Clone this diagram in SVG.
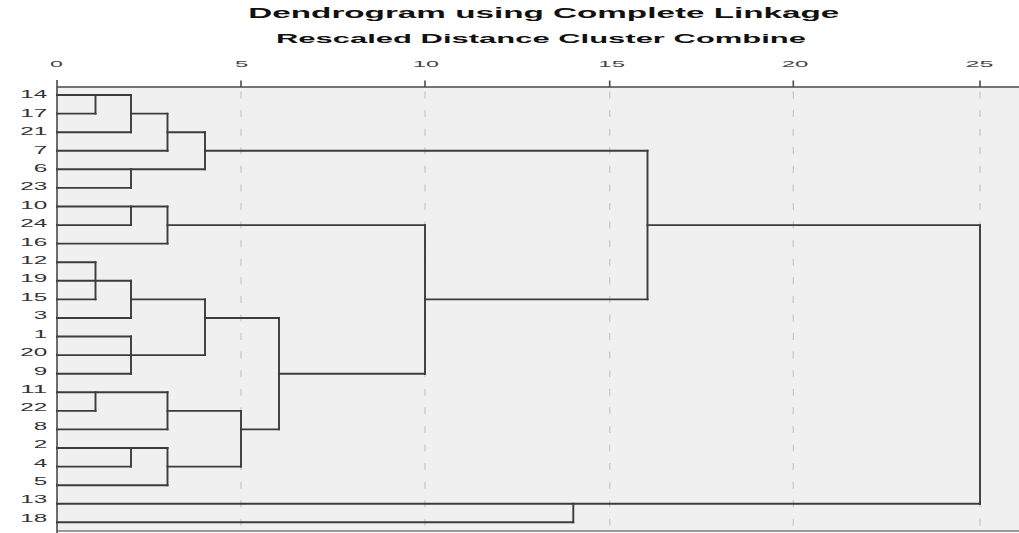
<svg xmlns="http://www.w3.org/2000/svg" width="1019" height="533" viewBox="0 0 1019 533">
  <style>
    .title { font-family: "Liberation Sans", Arial, sans-serif; font-weight: bold; fill: #111; }
    .tick { font-family: "Liberation Sans", Arial, sans-serif; font-size: 9.5px; fill: #444; }
    .leaf { font-family: "Liberation Sans", Arial, sans-serif; font-size: 10px; fill: #333; }
    .grid { stroke: #c9c9c9; stroke-width: 1.3; stroke-dasharray: 7 11.58; fill: none; }
    .axis { stroke: #4a4a4a; stroke-width: 1.6; fill: none; }
    .link { stroke: #3c3c3c; stroke-width: 1.9; fill: none; stroke-linecap: square; }
  </style>

  <rect width="1019" height="533" fill="#ffffff"/>

  <!-- headings -->
  <g id="headings">
    <text class="title" x="248.3" y="17.5" font-size="14" textLength="591" lengthAdjust="spacingAndGlyphs">Dendrogram using Complete Linkage</text>
    <text class="title" x="276" y="42.7" font-size="12.5" textLength="530" lengthAdjust="spacingAndGlyphs">Rescaled Distance Cluster Combine</text>
  </g>

  <!-- plot area -->
  <g id="plot-area">
    <rect x="57" y="87" width="962" height="444" fill="#f0f0f0"/>
    <line x1="57" y1="531" x2="1019" y2="531" stroke="#7a7a7a" stroke-width="1.3"/>
  </g>

  <!-- dashed reference lines at 5, 10, 15, 20, 25 -->
  <g id="gridlines">
    <line class="grid" x1="241" y1="91.5" x2="241" y2="531"/>
    <line class="grid" x1="425" y1="91.5" x2="425" y2="531"/>
    <line class="grid" x1="609.7" y1="91.5" x2="609.7" y2="531"/>
    <line class="grid" x1="793.3" y1="91.5" x2="793.3" y2="531"/>
    <line class="grid" x1="980" y1="91.5" x2="980" y2="531"/>
  </g>

  <!-- distance scale -->
  <g id="axis">
    <line class="axis" x1="57" y1="87" x2="1019" y2="87"/>
    <line class="axis" x1="57" y1="80" x2="57" y2="533"/>
    <path class="axis" stroke-width="2" d="M241 80.5V87 M425 80.5V87 M609.7 80.5V87 M793.3 80.5V87 M980 80.5V87"/>
    <text class="tick" x="50" y="67.3" textLength="13" lengthAdjust="spacingAndGlyphs">0</text>
    <text class="tick" x="235" y="67.3" textLength="13.3" lengthAdjust="spacingAndGlyphs">5</text>
    <text class="tick" x="413" y="67.3" textLength="26" lengthAdjust="spacingAndGlyphs">10</text>
    <text class="tick" x="598.3" y="67.3" textLength="26.7" lengthAdjust="spacingAndGlyphs">15</text>
    <text class="tick" x="781.7" y="67.3" textLength="26.7" lengthAdjust="spacingAndGlyphs">20</text>
    <text class="tick" x="965.5" y="67.3" textLength="28" lengthAdjust="spacingAndGlyphs">25</text>
  </g>

  <!-- case labels -->
  <g id="leaf-14"><text class="leaf" x="20.3" y="98.2" textLength="27" lengthAdjust="spacingAndGlyphs">14</text></g>
  <g id="leaf-17"><text class="leaf" x="20.3" y="116.6" textLength="27" lengthAdjust="spacingAndGlyphs">17</text></g>
  <g id="leaf-21"><text class="leaf" x="20.3" y="135.0" textLength="27" lengthAdjust="spacingAndGlyphs">21</text></g>
  <g id="leaf-7"><text class="leaf" x="33.8" y="153.5" textLength="13.5" lengthAdjust="spacingAndGlyphs">7</text></g>
  <g id="leaf-6"><text class="leaf" x="33.8" y="171.9" textLength="13.5" lengthAdjust="spacingAndGlyphs">6</text></g>
  <g id="leaf-23"><text class="leaf" x="20.3" y="190.3" textLength="27" lengthAdjust="spacingAndGlyphs">23</text></g>
  <g id="leaf-10"><text class="leaf" x="20.3" y="208.7" textLength="27" lengthAdjust="spacingAndGlyphs">10</text></g>
  <g id="leaf-24"><text class="leaf" x="20.3" y="227.1" textLength="27" lengthAdjust="spacingAndGlyphs">24</text></g>
  <g id="leaf-16"><text class="leaf" x="20.3" y="245.6" textLength="27" lengthAdjust="spacingAndGlyphs">16</text></g>
  <g id="leaf-12"><text class="leaf" x="20.3" y="264.0" textLength="27" lengthAdjust="spacingAndGlyphs">12</text></g>
  <g id="leaf-19"><text class="leaf" x="20.3" y="282.4" textLength="27" lengthAdjust="spacingAndGlyphs">19</text></g>
  <g id="leaf-15"><text class="leaf" x="20.3" y="300.8" textLength="27" lengthAdjust="spacingAndGlyphs">15</text></g>
  <g id="leaf-3"><text class="leaf" x="33.8" y="319.2" textLength="13.5" lengthAdjust="spacingAndGlyphs">3</text></g>
  <g id="leaf-1"><text class="leaf" x="33.8" y="337.7" textLength="13.5" lengthAdjust="spacingAndGlyphs">1</text></g>
  <g id="leaf-20"><text class="leaf" x="20.3" y="356.1" textLength="27" lengthAdjust="spacingAndGlyphs">20</text></g>
  <g id="leaf-9"><text class="leaf" x="33.8" y="374.5" textLength="13.5" lengthAdjust="spacingAndGlyphs">9</text></g>
  <g id="leaf-11"><text class="leaf" x="20.3" y="392.9" textLength="27" lengthAdjust="spacingAndGlyphs">11</text></g>
  <g id="leaf-22"><text class="leaf" x="20.3" y="411.3" textLength="27" lengthAdjust="spacingAndGlyphs">22</text></g>
  <g id="leaf-8"><text class="leaf" x="33.8" y="429.8" textLength="13.5" lengthAdjust="spacingAndGlyphs">8</text></g>
  <g id="leaf-2"><text class="leaf" x="33.8" y="448.2" textLength="13.5" lengthAdjust="spacingAndGlyphs">2</text></g>
  <g id="leaf-4"><text class="leaf" x="33.8" y="466.6" textLength="13.5" lengthAdjust="spacingAndGlyphs">4</text></g>
  <g id="leaf-5"><text class="leaf" x="33.8" y="485.0" textLength="13.5" lengthAdjust="spacingAndGlyphs">5</text></g>
  <g id="leaf-13"><text class="leaf" x="20.3" y="503.4" textLength="27" lengthAdjust="spacingAndGlyphs">13</text></g>
  <g id="leaf-18"><text class="leaf" x="20.3" y="521.9" textLength="27" lengthAdjust="spacingAndGlyphs">18</text></g>

  <!-- tree links: horizontal runs per row, then the joining verticals -->
  <g id="connectors" class="link">
    <path d="M57 95H131
             M57 113.6H95.5 M131 113.6H167.5
             M57 132.2H131 M167.5 132.2H205
             M57 150.7H167.5 M205 150.7H647.5
             M57 169.3H205
             M57 187.9H131
             M57 206.5H167.5
             M57 225.1H131 M167.5 225.1H425 M647.5 225.1H980
             M57 243.6H167.5
             M57 262.2H95.5
             M57 280.8H131
             M57 299.4H95.5 M131 299.4H205 M425 299.4H647.5
             M57 318H131 M205 318H279
             M57 336.5H131
             M57 355.1H205
             M57 373.7H131 M279 373.7H425
             M57 392.3H167.5
             M57 410.9H95.5 M167.5 410.9H241
             M57 429.4H167.5 M241 429.4H279
             M57 448H167.5
             M57 466.6H131 M167.5 466.6H241
             M57 485.2H167.5
             M57 503.8H980
             M57 522.3H573.3"/>
    <path d="M95.5 95V113.6
             M131 95V132.2
             M167.5 113.6V150.7
             M131 169.3V187.9
             M205 132.2V169.3
             M131 206.5V225.1
             M167.5 206.5V243.6
             M95.5 262.2V299.4
             M131 280.8V318
             M131 336.5V373.7
             M205 299.4V355.1
             M95.5 392.3V410.9
             M167.5 392.3V429.4
             M131 448V466.6
             M167.5 448V485.2
             M241 410.9V466.6
             M279 318V429.4
             M425 225.1V373.7
             M647.5 150.7V299.4
             M573.3 503.8V522.3
             M980 225.1V503.8"/>
  </g>
</svg>
